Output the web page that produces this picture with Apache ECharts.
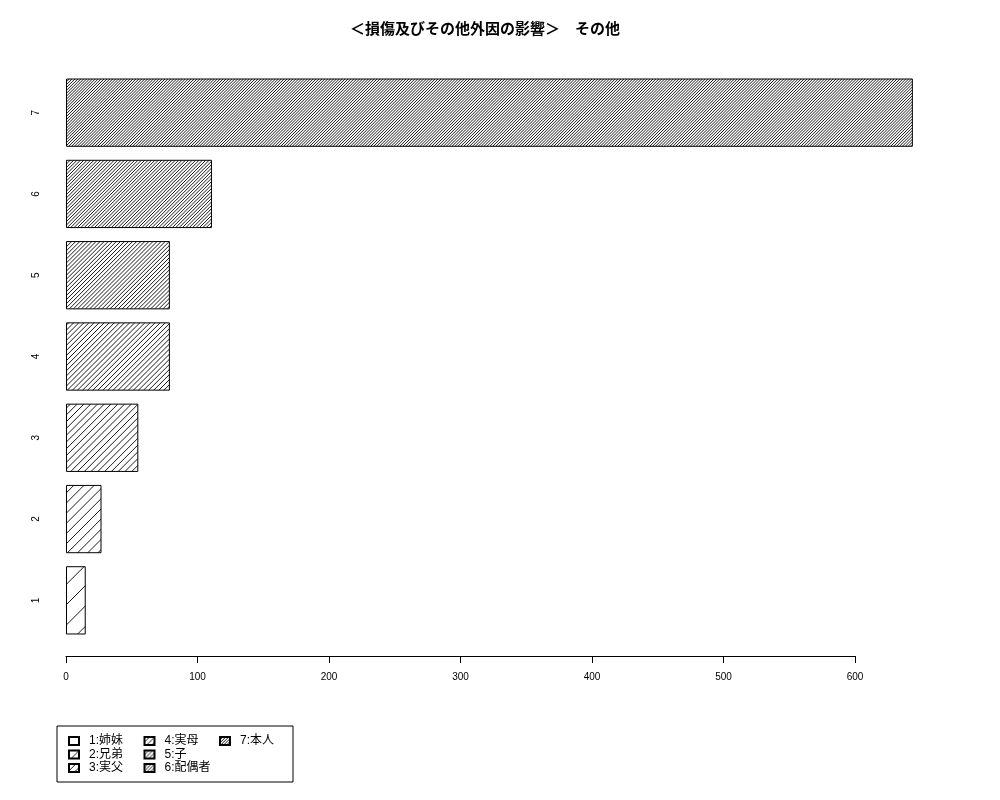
<!DOCTYPE html>
<html>
<head>
<meta charset="utf-8">
<script src="https://cdn.jsdelivr.net/npm/echarts@6/dist/echarts.min.js"></script>
<style>
  html, body { margin: 0; padding: 0; background: #fff; }
  #chart { width: 1000px; height: 800px; }
</style>
</head>
<body>
<div id="chart"></div>
<script>
// ── Data ──────────────────────────────────────────────────────────────────────
const categories = ['1', '2', '3', '4', '5', '6', '7'];
const values = [15, 27, 55, 79, 79, 111, 644];
const legendNames = ['1:姉妹', '2:兄弟', '3:実父', '4:実母', '5:子', '6:配偶者', '7:本人'];
const xTicks = [0, 100, 200, 300, 400, 500, 600];

const FONT = '"Liberation Sans", "Noto Sans CJK JP", sans-serif';

// ── Hatch fill (R-style density, "/" lines) ──────────────────────────────────
function hatch(n) {
  const W = 61;
  const cv = document.createElement('canvas');
  cv.width = W; cv.height = W;
  const ctx = cv.getContext('2d');
  ctx.strokeStyle = '#000';
  ctx.lineWidth = 0.9;
  const lines = 3 * n;
  for (let j = 0; j <= 2 * lines; j++) {
    const c = j * W / lines;
    ctx.beginPath();
    ctx.moveTo(c + 2, -2);
    ctx.lineTo(-2, c + 2);
    ctx.stroke();
  }
  return { image: cv, repeat: 'repeat' };
}

// one series per category so each gets its own legend entry
const series = categories.map((c, i) => ({
  name: legendNames[i],
  type: 'bar',
  stack: 'all',
  clip: false,
  barCategoryGap: '16%',
  data: values.map((v, k) => (k === i ? v : '-')),
  itemStyle: { color: hatch(i + 1), borderColor: '#000', borderWidth: 1 },
  emphasis: { disabled: true },
}));

const chart = echarts.init(document.getElementById('chart'), null, { renderer: 'canvas' });
chart.setOption({
  animation: false,
  backgroundColor: '#fff',
  title: {
    text: '＜損傷及びその他外因の影響＞　その他',
    left: 345, top: 17,
    textStyle: { fontFamily: FONT, fontSize: 15, fontWeight: 'bold', color: '#000' },
  },
  grid: { left: 66, right: 145, top: 72, bottom: 159, outerBoundsMode: 'none' },
  xAxis: {
    type: 'value', min: 0, max: 600, interval: 100,
    offset: 15,
    axisLine: { show: true, lineStyle: { color: '#000', width: 1 } },
    axisTick: { show: true, length: 7, lineStyle: { color: '#000' } },
    axisLabel: { margin: 16, fontFamily: FONT, fontSize: 10, color: '#000',
      formatter: v => (xTicks.includes(v) ? String(v) : '') },
    splitLine: { show: false },
  },
  yAxis: {
    type: 'category', data: categories,
    axisLine: { show: false },
    axisTick: { show: false },
    axisLabel: { rotate: 90, margin: 25, fontFamily: FONT, fontSize: 10, color: '#000' },
  },
  legend: {
    orient: 'vertical',
    left: 57, top: 726,
    height: 40,
    padding: [9, 0, 8, 11],
    borderColor: '#000', borderWidth: 1,
    itemWidth: 10, itemHeight: 8, itemGap: 1.5,
    icon: 'rect',
    selectedMode: false,
    textStyle: { fontFamily: FONT, fontSize: 12, color: '#000', width: 53, lineHeight: 12,
      padding: [0, 0, 0, 5] },
    data: legendNames,
  },
  series,
});
</script>
</body>
</html>
